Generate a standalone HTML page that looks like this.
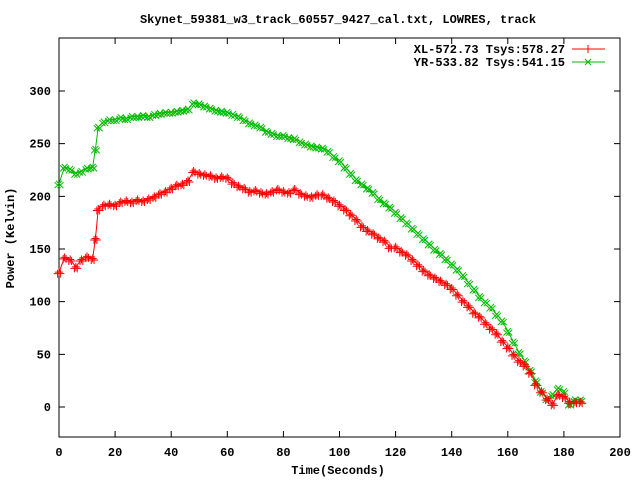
<!DOCTYPE html>
<html><head><meta charset="utf-8"><style>
body{margin:0;background:#fff}
svg text{font-family:"Liberation Mono",monospace;font-size:12px;font-weight:bold;fill:#000}
</style></head><body>
<svg id="chart" width="640" height="480" xmlns="http://www.w3.org/2000/svg">
<rect width="640" height="480" fill="#fff"/>
<text x="338" y="23" text-anchor="middle">Skynet_59381_w3_track_60557_9427_cal.txt, LOWRES, track</text>
<text x="338" y="474" text-anchor="middle">Time(Seconds)</text>
<text x="14" y="238" text-anchor="middle" transform="rotate(-90 14 238)">Power (Kelvin)</text>
<g id="axes"></g>
<g id="series"></g>
<g>
<text x="565" y="53" text-anchor="end">XL-572.73 Tsys:578.27</text>
<line x1="572" y1="49" x2="605" y2="49" stroke="#f00"/><path d="M588 45V53M584 49H592" stroke="#f00"/>
<text x="565" y="66" text-anchor="end">YR-533.82 Tsys:541.15</text>
<line x1="572" y1="62" x2="605" y2="62" stroke="#0b0"/><path d="M585 59L591 65M585 65L591 59" stroke="#0b0"/>
</g>
</svg>
<script>
const xTicks=[0,20,40,60,80,100,120,140,160,180,200];
const yTicks=[0,50,100,150,200,250,300];
const timesXL=[0,2,4,6,8,10,12,13,14,16,18,20,22,24,26,28,30,32,34,36,38,40,42,44,46,48,50,52,54,56,58,60,62,64,66,68,70,72,74,76,78,80,82,84,86,88,90,92,94,96,98,100,102,104,106,108,110,112,114,116,118,120,122,124,126,128,130,132,134,136,138,140,142,144,146,148,150,152,154,156,158,160,162,164,166,168,170,172,174,176,178,180,182,184,186];
const valuesXL=[128,142,140,133,140,143,141,160,188,192,193,192,195,196,195,197,196,198,200,203,205,208,211,212,215,224,222,221,220,218,219,218,213,210,208,205,206,204,203,205,207,205,204,207,203,201,200,202,202,199,196,192,188,183,178,172,168,165,161,158,152,152,148,145,140,135,130,126,123,120,117,113,107,101,96,90,86,80,75,70,63,57,50,44,40,33,22,15,8,3,12,10,5,5,5];
const timesYR=timesXL;
const valuesYR=[212,228,226,222,224,227,228,245,266,271,273,273,275,274,276,276,277,276,278,279,280,280,281,282,283,289,288,286,284,282,281,280,278,276,273,270,268,266,262,260,258,258,256,255,252,250,248,247,246,243,238,234,228,222,216,212,208,204,198,194,190,185,180,175,170,165,160,155,150,146,141,136,131,125,118,112,105,100,95,88,82,72,62,52,44,35,25,15,8,12,18,15,3,7,7];
const X=t=>59+t*(620-59)/200;
const Y=v=>407-v*(407-91)/300;
const NS="http://www.w3.org/2000/svg";
const ax=document.getElementById('axes');
function mk(p,tag,attrs){const e=document.createElementNS(NS,tag);for(const k in attrs)e.setAttribute(k,attrs[k]);p.appendChild(e);return e;}
const frame=mk(ax,'rect',{x:59,y:38,width:561,height:399,fill:'none',stroke:'#000'});


xTicks.forEach(t=>{
 mk(ax,'path',{d:`M${X(t)} 437v-6M${X(t)} 38v6`,stroke:'#000'});
 const tx=mk(ax,'text',{x:X(t),y:456,'text-anchor':'middle'});tx.textContent=t;
 
 
});
yTicks.forEach(v=>{
 mk(ax,'path',{d:`M59 ${Y(v)}h6M620 ${Y(v)}h-6`,stroke:'#000'});
 const tx=mk(ax,'text',{x:51,y:Y(v)+4,'text-anchor':'end'});tx.textContent=v;
 
 
});
const sg=document.getElementById('series');
function draw(ts,vs,col,plus,name){
 const g=mk(sg,'g',{});
 
 
 mk(g,'polyline',{points:ts.map((t,i)=>X(t)+','+Y(vs[i])).join(' '),fill:'none',stroke:col});
 let d='';
 ts.forEach((t,i)=>{const x=X(t),y=Y(vs[i]);
  for(const dx of [-1.4,0,1.4]){const xx=x+dx,yy=y+(dx?1.5:0);
   d+=plus?`M${xx-4} ${yy}h8M${xx} ${yy-4}v8`:`M${xx-3} ${yy-3}l6 6M${xx-3} ${yy+3}l6 -6`;}
 });
 mk(g,'path',{d:d,stroke:col,fill:'none'});
}
draw(timesYR,valuesYR,'#0b0',false,'series-yr');
draw(timesXL,valuesXL,'#f00',true,'series-xl');
</script>
</body></html>
